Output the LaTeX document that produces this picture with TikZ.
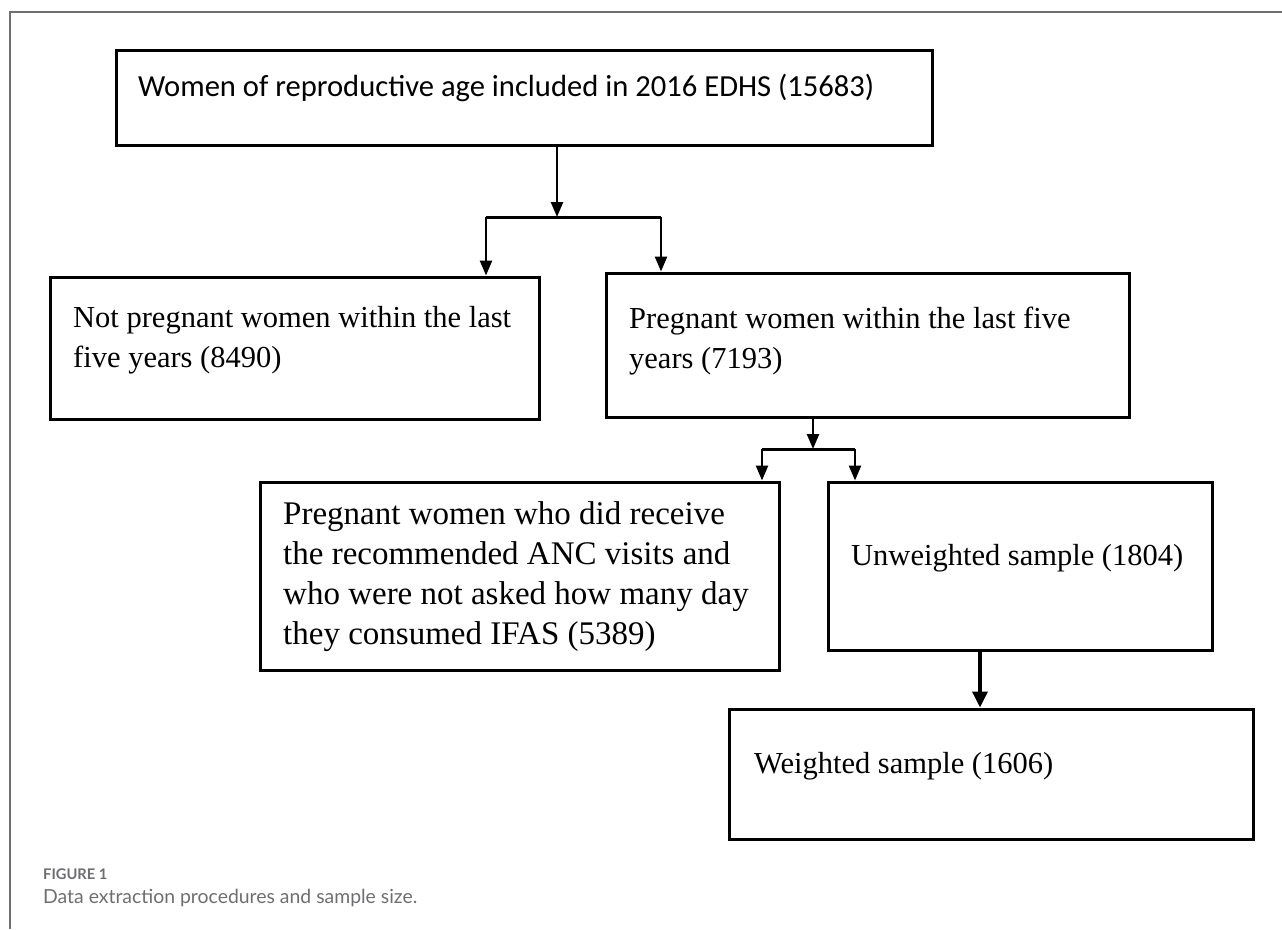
\documentclass[tikz,border=0pt]{standalone}
\usepackage{fontspec}
\setmainfont{Liberation Serif}
\newfontfamily\calfont{Carlito}
\newfontfamily\capfont{Lato}
\usetikzlibrary{arrows.meta}
\definecolor{capgray}{HTML}{6D6E71}
\definecolor{framegray}{HTML}{707070}

\begin{document}
\begin{tikzpicture}[x=1pt,y=-1pt,
   box/.style={draw, line width=3pt, rectangle, inner sep=0pt},
   txt/.style={anchor=base west, inner sep=0pt, align=left, font=\fontsize{30.5}{40}\selectfont},
   arr/.style={-{Triangle[length=15pt,width=12pt]}, line width=2.5pt},
   bar/.style={line width=3pt}]
   \useasboundingbox (0,0) rectangle (1282,929);
   \draw[framegray, line width=1.2pt] (10,929) -- (10,12) -- (1282,12);

   % boxes
   \node[box, minimum width=816pt, minimum height=95pt](women) at (524,97.5) {};
   \node[box, minimum width=489pt, minimum height=142pt](notpreg) at (294.5,348) {};
   \node[box, minimum width=523pt, minimum height=144pt](preg) at (867.5,345) {};
   \node[box, minimum width=519pt, minimum height=188pt](anc) at (519.5,576) {};
   \node[box, minimum width=384pt, minimum height=168pt](unweighted) at (1020,566) {};
   \node[box, minimum width=524pt, minimum height=130pt](weighted) at (991,774) {};

   % texts (base = last line)
   \node[txt, font=\calfont\fontsize{30.6}{36}\selectfont](womentxt) at (138,96) {Women of reproductive age included in 2016 EDHS (15683)};
   \node[txt](notpregtxt) at (73,367) {Not pregnant women within the last\\five years (8490)};
   \node[txt](pregtxt) at (629,368) {Pregnant women within the last five\\years (7193)};
   \node[txt, font=\fontsize{33}{40}\selectfont](anctxt) at (283,644) {Pregnant women who did receive\\the recommended ANC visits and\\who were not asked how many day\\they consumed IFAS (5389)};
   \node[txt](unweightedtxt) at (851,565) {Unweighted sample (1804)};
   \node[txt](weightedtxt) at (754,773) {Weighted sample (1606)};

   % split points
   \coordinate(split) at (557,217);
   \coordinate(splitl) at (486,217);
   \coordinate(splitr) at (661,217);
   \coordinate(subsplit) at (813,449);
   \coordinate(subsplitl) at (762,449);
   \coordinate(subsplitr) at (855,449);

   \draw[arr](women.south -| split) to (split);
   \draw[bar](splitl) to (splitr);
   \draw[arr](splitl) to (splitl |- notpreg.north);
   \draw[arr](splitr) to (splitr |- preg.north);
   \draw[arr](preg.south -| subsplit) to (subsplit);
   \draw[bar](subsplitl) to (subsplitr);
   \draw[arr](subsplitl) to (subsplitl |- anc.north);
   \draw[arr](subsplitr) to (subsplitr |- unweighted.north);
   \draw[-{Triangle[length=16pt,width=15pt]}, line width=3.5pt](unweighted.south -| 980,0) to (980,0 |- weighted.north);

   % caption
   \node[anchor=base west, inner sep=0pt, text=capgray, font=\capfont\bfseries\fontsize{14.7}{16}\selectfont](figlabel) at (43,879) {FIGURE 1};
   \node[anchor=base west, inner sep=0pt, text=capgray, font=\capfont\fontsize{19.4}{21}\selectfont](figcaption) at (43,903) {Data extraction procedures and sample size.};
\end{tikzpicture}
\end{document}
